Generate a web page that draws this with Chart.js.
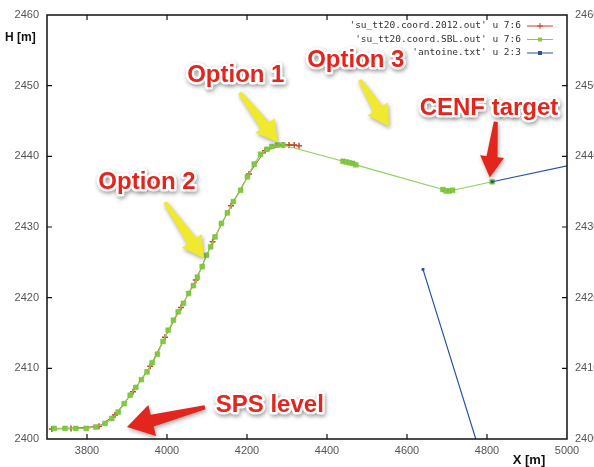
<!DOCTYPE html>
<html>
<head>
<meta charset="utf-8">
<script src="https://cdn.jsdelivr.net/npm/chart.js@4.4.1/dist/chart.umd.min.js"></script>
<style>
	html, body { margin: 0; padding: 0; background: #fff; }
	#TunnelChart { display: block; }
</style>
</head>
<body>
<canvas id="TunnelChart" width="594" height="467"></canvas>
<script>
'use strict';

// *** Data ***
const aryXTicks = [3800, 4000, 4200, 4400, 4600, 4800, 5000];
const aryYTicks = [2400, 2410, 2420, 2430, 2440, 2450, 2460];

const aryLegendLabels = [
	"'su_tt20.coord.2012.out' u 7:6",
	"'su_tt20.coord.SBL.out' u 7:6",
	"'antoine.txt' u 2:3",
];

const arySblX = [3718, 3745, 3772, 3798, 3822, 3845, 3862, 3878, 3893, 3908, 3922, 3936, 3950, 3963, 3976, 3990,
	4003, 4016, 4028, 4041, 4054, 4066, 4076, 4088, 4099, 4109, 4120, 4136, 4151, 4166, 4184, 4201, 4218, 4234,
	4250, 4262, 4276, 4290, 4440, 4448, 4456, 4464, 4472, 4690, 4698, 4706, 4714, 4813];
const arySblH = [2401.5, 2401.5, 2401.5, 2401.5, 2401.7, 2402.2, 2402.9, 2403.8, 2405.0, 2406.2, 2407.3, 2408.4,
	2409.5, 2410.8, 2412.0, 2413.8, 2415.4, 2416.8, 2418.0, 2419.2, 2420.6, 2421.7, 2422.9, 2424.4, 2426.0, 2427.2,
	2428.6, 2430.5, 2432.0, 2433.6, 2435.2, 2437.1, 2438.9, 2440.3, 2441.0, 2441.4, 2441.6, 2441.6, 2439.3, 2439.2,
	2439.1, 2439.0, 2438.8, 2435.3, 2435.1, 2435.1, 2435.2, 2436.4];

const ary2012X = [3712, 3760, 3830, 3870, 3915, 3958, 3995, 4035, 4072, 4114, 4160, 4205, 4245, 4290, 4305, 4318, 4330];
const ary2012H = [2401.4, 2401.5, 2401.8, 2403.4, 2406.7, 2410.3, 2414.4, 2418.6, 2422.5, 2427.9, 2433.0, 2437.5,
	2440.8, 2441.6, 2441.6, 2441.6, 2441.5];

const aryAntoineX = [4640, 4794, null, 4813, 5020];
const aryAntoineH = [2424.0, 2396.0, null, 2436.4, 2438.9];

// annotations put on the picture (data coordinates)
const aryNotes = [
	{ text: 'Option 1', x: 4172, h: 2451.5, tail: [4182, 2449.0], tip: [4277, 2442.0], fill: '#f1e92e', big: false },
	{ text: 'Option 3', x: 4472, h: 2453.6, tail: [4482, 2450.8], tip: [4555, 2444.2], fill: '#f1e92e', big: false },
	{ text: 'Option 2', x: 3950, h: 2436.3, tail: [3995, 2433.5], tip: [4092, 2425.6], fill: '#f1e92e', big: false },
	{ text: 'CENF target', x: 4805, h: 2446.8, tail: [4822, 2444.9], tip: [4807, 2437.0], fill: '#e3261d', big: false },
	{ text: 'SPS level', x: 4257, h: 2404.8, tail: [4095, 2404.5], tip: [3900, 2401.7], fill: '#e3261d', big: true },
];

function toPoints(_x, _h) {
	return _x.map((v, i) => ({ x: v, y: _h[i] }));
}

function drawArrow(ctx, x0, y0, x1, y1, fill, big) {
	const dx = x1 - x0;
	const dy = y1 - y0;
	const len = Math.sqrt(dx * dx + dy * dy);
	const ux = dx / len;
	const uy = dy / len;
	const nx = -uy;
	const ny = ux;
	const hl = big ? 26 : Math.min(21, len * 0.45);
	const hw = big ? 16 : 12;
	const sw = big ? 6 : 5.5;
	const tw = big ? 2 : 2;
	const bx = x1 - ux * hl;
	const by = y1 - uy * hl;
	ctx.save();
	ctx.beginPath();
	ctx.moveTo(x0 + nx * tw, y0 + ny * tw);
	ctx.lineTo(bx + nx * sw, by + ny * sw);
	ctx.lineTo(bx + nx * hw, by + ny * hw);
	ctx.lineTo(x1, y1);
	ctx.lineTo(bx - nx * hw, by - ny * hw);
	ctx.lineTo(bx - nx * sw, by - ny * sw);
	ctx.lineTo(x0 - nx * tw, y0 - ny * tw);
	ctx.closePath();
	ctx.shadowColor = 'rgba(0, 0, 0, 0.35)';
	ctx.shadowBlur = 4;
	ctx.shadowOffsetX = 1;
	ctx.shadowOffsetY = 2;
	ctx.fillStyle = fill;
	ctx.fill();
	ctx.restore();
}

function drawLegendMark(ctx, idx, x, y) {
	const colors = ['#d23a2a', '#86cc4a', '#2452a4'];
	ctx.strokeStyle = colors[idx];
	ctx.fillStyle = colors[idx];
	ctx.lineWidth = 1;
	ctx.beginPath();
	ctx.moveTo(x - 13, y);
	ctx.lineTo(x + 13, y);
	ctx.stroke();
	if (idx === 0) {
		ctx.beginPath();
		ctx.moveTo(x - 3, y);
		ctx.lineTo(x + 3, y);
		ctx.moveTo(x, y - 3);
		ctx.lineTo(x, y + 3);
		ctx.stroke();
	} else {
		ctx.fillRect(x - 2, y - 2, 4, 4);
	}
}

const framePlugin = {
	id: 'gnuplotFrame',
	afterDatasetsDraw(chart) {
		const ctx = chart.ctx;
		const a = chart.chartArea;
		const sx = chart.scales.x;
		const sy = chart.scales.y;
		ctx.save();
		ctx.strokeStyle = '#111';
		ctx.lineWidth = 1.5;
		ctx.strokeRect(a.left, a.top, a.right - a.left, a.bottom - a.top);
		ctx.lineWidth = 1.2;
		ctx.beginPath();
		aryXTicks.forEach((v) => {
			const px = sx.getPixelForValue(v);
			if (px >= a.right - 1) return;
			ctx.moveTo(px, a.bottom);
			ctx.lineTo(px, a.bottom - 5);
			ctx.moveTo(px, a.top);
			ctx.lineTo(px, a.top + 5);
		});
		aryYTicks.forEach((v) => {
			const py = sy.getPixelForValue(v);
			if (py <= a.top + 1 || py >= a.bottom - 1) return;
			ctx.moveTo(a.left, py);
			ctx.lineTo(a.left + 5, py);
			ctx.moveTo(a.right, py);
			ctx.lineTo(a.right - 5, py);
		});
		ctx.stroke();
		ctx.restore();
	},
	afterDraw(chart) {
		const ctx = chart.ctx;
		const sx = chart.scales.x;
		const sy = chart.scales.y;
		ctx.save();

		// axis names
		ctx.fillStyle = '#111';
		ctx.font = 'bold 12px "Liberation Sans", Arial, sans-serif';
		ctx.textAlign = 'left';
		ctx.textBaseline = 'middle';
		ctx.fillText('H [m]', 5, 38);
		ctx.font = 'bold 13px "Liberation Sans", Arial, sans-serif';
		ctx.textAlign = 'center';
		ctx.fillText('X [m]', 529, 460);

		// legend (gnuplot style)
		ctx.font = '9.5px "DejaVu Sans Mono", monospace';
		ctx.textAlign = 'right';
		aryLegendLabels.forEach((label, i) => {
			const y = 26 + i * 13.5;
			ctx.fillStyle = '#333';
			ctx.fillText(label, 521, y);
			drawLegendMark(ctx, i, 540, y);
		});

		// annotations
		aryNotes.forEach((note) => {
			drawArrow(ctx,
				sx.getPixelForValue(note.tail[0]), sy.getPixelForValue(note.tail[1]),
				sx.getPixelForValue(note.tip[0]), sy.getPixelForValue(note.tip[1]),
				note.fill, note.big);
		});
		ctx.font = 'bold 24px "Liberation Sans", Arial, sans-serif';
		ctx.textAlign = 'center';
		ctx.textBaseline = 'middle';
		ctx.lineJoin = 'round';
		aryNotes.forEach((note) => {
			const px = sx.getPixelForValue(note.x);
			const py = sy.getPixelForValue(note.h);
			ctx.save();
			ctx.shadowColor = 'rgba(0, 0, 0, 0.4)';
			ctx.shadowBlur = 4;
			ctx.shadowOffsetX = 1;
			ctx.shadowOffsetY = 2;
			ctx.strokeStyle = '#fff';
			ctx.lineWidth = 5;
			ctx.strokeText(note.text, px, py);
			ctx.restore();
			ctx.fillStyle = '#e3261d';
			ctx.fillText(note.text, px, py);
		});
		ctx.restore();
	},
};

function prepareDataSets() {
	return [
		{
			label: aryLegendLabels[0],
			data: toPoints(ary2012X, ary2012H),
			borderColor: '#c8452c',
			backgroundColor: '#c8452c',
			borderWidth: 1,
			pointStyle: 'cross',
			pointRadius: 3,
			pointBorderWidth: 1.5,
			order: 3,
		},
		{
			label: aryLegendLabels[1],
			data: toPoints(arySblX, arySblH),
			borderColor: '#8fd05a',
			backgroundColor: '#7fcb3c',
			borderWidth: 1.2,
			pointStyle: 'rect',
			pointRadius: 3.4,
			pointBorderWidth: 0.5,
			pointBorderColor: '#74b83c',
			order: 2,
		},
		{
			label: aryLegendLabels[2],
			data: toPoints(aryAntoineX, aryAntoineH),
			borderColor: '#2452a4',
			backgroundColor: '#2452a4',
			borderWidth: 1.2,
			pointStyle: 'rect',
			pointRadius: 2,
			pointBorderWidth: 0,
			spanGaps: false,
			order: 1,
		},
	];
}

function prepareOptions() {
	const tickFont = { family: '"Liberation Sans", Arial, sans-serif', size: 11 };
	const plainLabel = (v) => String(v);
	return {
		responsive: false,
		animation: false,
		events: [],
		layout: { padding: { top: 15 } },
		plugins: {
			legend: { display: false },
			tooltip: { enabled: false },
		},
		elements: { line: { tension: 0 } },
		scales: {
			x: {
				type: 'linear',
				position: 'bottom',
				min: 3700,
				max: 5000,
				grid: { display: false, drawTicks: false },
				border: { display: false },
				ticks: { font: tickFont, color: '#555', padding: 5, maxRotation: 0, callback: plainLabel },
				afterBuildTicks: (scale) => { scale.ticks = aryXTicks.map((v) => ({ value: v })); },
				afterFit: (scale) => { scale.height = 28; },
			},
			y: {
				type: 'linear',
				position: 'left',
				min: 2400,
				max: 2460,
				grid: { display: false, drawTicks: false },
				border: { display: false },
				ticks: { font: tickFont, color: '#555', padding: 8, callback: plainLabel },
				afterBuildTicks: (scale) => { scale.ticks = aryYTicks.map((v) => ({ value: v })); },
				afterFit: (scale) => { scale.width = 47; },
			},
			y2: {
				type: 'linear',
				position: 'right',
				min: 2400,
				max: 2460,
				grid: { display: false, drawTicks: false },
				border: { display: false },
				ticks: { font: tickFont, color: '#555', padding: 8, callback: plainLabel },
				afterBuildTicks: (scale) => { scale.ticks = aryYTicks.map((v) => ({ value: v })); },
				afterFit: (scale) => { scale.width = 27; },
			},
		},
	};
}

// *** Entry Point ***
const tunnelChart = new Chart(document.getElementById('TunnelChart'), {
	type: 'scatter',
	data: { datasets: prepareDataSets() },
	options: Object.assign(prepareOptions(), { showLine: true }),
	plugins: [framePlugin],
});
</script>
</body>
</html>
